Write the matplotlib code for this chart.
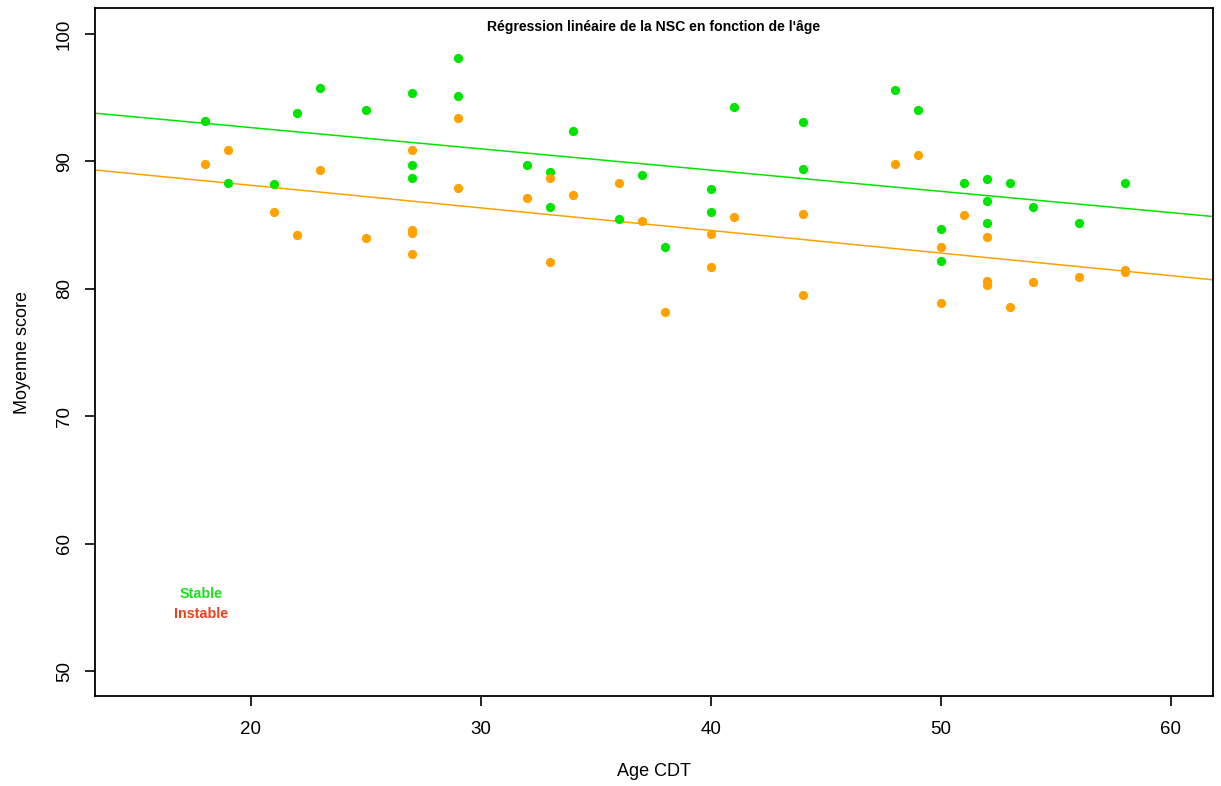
import matplotlib
matplotlib.use("Agg")
import matplotlib.pyplot as plt
import numpy as np

plt.rcParams['font.family'] = ['Liberation Sans', 'DejaVu Sans']

# ages et scores
age_stable = [18, 19, 21, 22, 23, 25, 27, 27, 27, 29, 29, 32, 33, 33, 34, 36, 37, 38,
              40, 40, 41, 44, 44, 48, 49, 50, 50, 51, 52, 52, 52, 53, 54, 56, 58]
score_stable = [93.2, 88.3, 88.2, 93.8, 95.8, 94.0, 95.4, 89.7, 88.7, 98.1, 95.1, 89.7,
                89.2, 86.4, 92.4, 85.5, 88.9, 83.3, 87.8, 86.0, 94.3, 93.1, 89.4, 95.6,
                94.0, 84.7, 82.2, 88.3, 88.6, 86.9, 85.2, 88.3, 86.4, 85.2, 88.3]

age_instable = [18, 19, 21, 22, 23, 25, 27, 27, 27, 27, 29, 29, 32, 33, 33, 34, 36, 37, 38,
                40, 40, 41, 44, 44, 48, 49, 50, 50, 51, 52, 52, 52, 53, 54, 56, 58, 58]
score_instable = [89.8, 90.9, 86.0, 84.2, 89.3, 84.0, 90.9, 84.6, 84.4, 82.7, 93.4, 87.9,
                  87.1, 88.7, 82.1, 87.4, 88.3, 85.3, 78.2, 84.3, 81.7, 85.6, 85.9, 79.5,
                  89.8, 90.5, 83.3, 78.9, 85.8, 84.1, 80.6, 80.3, 78.6, 80.5, 80.9, 81.5, 81.3]

# droites de régression (ordonnée à l'origine, pente)
reg_stable = (95.99, -0.1668)
reg_instable = (91.67, -0.1773)

vert = '#00e400'
orange = '#ffa200'

fig = plt.figure(figsize=(12.21, 7.86), dpi=100)
ax = fig.add_axes([0.0778, 0.1145, 0.9156, 0.8753])

ax.scatter(age_stable, score_stable, s=44, color=vert, zorder=3, linewidths=0)
ax.scatter(age_instable, score_instable, s=44, color=orange, zorder=3, linewidths=0)

xlim = (13.22, 61.83)
xs = np.array(xlim)
ax.plot(xs, reg_stable[0] + reg_stable[1] * xs, color=vert, lw=1.1, zorder=2)
ax.plot(xs, reg_instable[0] + reg_instable[1] * xs, color=orange, lw=1.1, zorder=2)

ax.set_xlim(*xlim)
ax.set_ylim(48.04, 102.04)
ax.set_xticks([20, 30, 40, 50, 60])
ax.set_yticks([50, 60, 70, 80, 90, 100])
ax.tick_params(axis='both', direction='out', length=7, width=1.2, labelsize=13.5)
ax.tick_params(axis='x', pad=11)
ax.tick_params(axis='y', pad=9)
for lab in ax.get_yticklabels():
    lab.set_rotation(90)
    lab.set_va('center')
for sp in ax.spines.values():
    sp.set_linewidth(1.3)

ax.set_xlabel('Age CDT', fontsize=13, labelpad=18)
ax.set_ylabel('Moyenne score', fontsize=13, labelpad=18)

ax.text(0.5, 0.972, "Régression linéaire de la NSC en fonction de l'âge",
        transform=ax.transAxes, ha='center', va='center', fontsize=10.1, fontweight='bold')

ax.text(17.83, 56.08, 'Stable', color='#1ee01e', fontsize=10.4, fontweight='bold',
        ha='center', va='center')
ax.text(17.83, 54.5, 'Instable', color='#f04020', fontsize=10.4, fontweight='bold',
        ha='center', va='center')

fig.savefig('out.png', dpi=100)
